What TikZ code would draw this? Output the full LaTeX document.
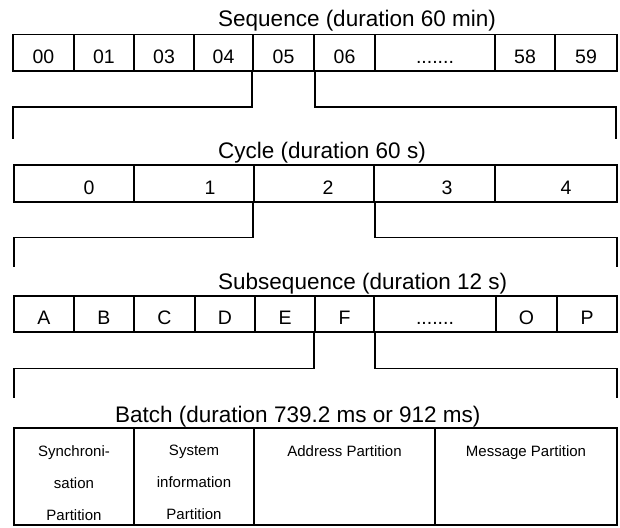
\documentclass[tikz,border=0pt]{standalone}
\usepackage{fontspec}
\setmainfont{Liberation Sans}
\begin{document}
\begin{tikzpicture}[x=1pt,y=-1pt,
  cell/.style={draw, line width=1.9pt, inner sep=0pt, minimum height=36.5pt,
    font=\fontsize{19.5}{20}\selectfont, text height=20.6pt, text depth=0pt},
  bcell/.style={draw, line width=2.1pt, inner sep=0pt, minimum height=97pt},
  ttl/.style={anchor=base west, inner sep=0pt, font=\fontsize{22.5}{24}\selectfont},
  lbl/.style={anchor=base, inner sep=0pt, font=\fontsize{19.5}{20}\selectfont},
  btxt/.style={anchor=north, inner sep=0pt, align=center, font=\fontsize{15}{32}\selectfont},
  conn/.style={draw, line width=1.3pt}]
\useasboundingbox (0,0) rectangle (620,527);

% ---------- Sequence ----------
\node[ttl] (tseq) at (218,27) {Sequence (duration 60 min)};
\node[cell, minimum width=61pt]  (s00) at (43.5,52.75) {00};
\node[cell, minimum width=60pt]  (s01) at (104,52.75) {01};
\node[cell, minimum width=60pt]  (s03) at (164,52.75) {03};
\node[cell, minimum width=59pt]  (s04) at (223.5,52.75) {04};
\node[cell, minimum width=61pt]  (s05) at (283.5,52.75) {05};
\node[cell, minimum width=61pt]  (s06) at (344.5,52.75) {06};
\node[cell, minimum width=120pt] (sdd) at (435,52.75) {.......};
\node[cell, minimum width=60pt]  (s58) at (525,52.75) {58};
\node[cell, minimum width=62pt]  (s59) at (586,52.75) {59};

\coordinate (k1l) at (13,139);
\coordinate (k1r) at (616,139);
\draw[conn] (s05.south west) -- ++(0,35) -| (k1l);
\draw[conn] (s05.south east) -- ++(0,35) -| (k1r);

% ---------- Cycle ----------
\node[ttl] (tcyc) at (218,158) {Cycle (duration 60 s)};
\node[cell, minimum width=120pt] (c0) at (74,183.5) {};
\node[cell, minimum width=120pt] (c1) at (194,183.5) {};
\node[cell, minimum width=120pt] (c2) at (314,183.5) {};
\node[cell, minimum width=121pt] (c3) at (434.5,183.5) {};
\node[cell, minimum width=122pt] (c4) at (556,183.5) {};
\node[lbl] (l0) at (89,194) {0};
\node[lbl] (l1) at (210,194) {1};
\node[lbl] (l2) at (328,194) {2};
\node[lbl] (l3) at (447,194) {3};
\node[lbl] (l4) at (566,194) {4};

\coordinate (k2l) at (14,267);
\coordinate (k2r) at (617,267);
\draw[conn] (c2.south west) -- ++(0,35) -| (k2l);
\draw[conn] (c2.south east) -- ++(0,35) -| (k2r);

% ---------- Subsequence ----------
\node[ttl] (tsub) at (218,289) {Subsequence (duration 12 s)};
\node[cell, minimum width=60pt]  (sA) at (44,314) {A};
\node[cell, minimum width=60pt]  (sB) at (104,314) {B};
\node[cell, minimum width=61pt]  (sC) at (164.5,314) {C};
\node[cell, minimum width=60pt]  (sD) at (225,314) {D};
\node[cell, minimum width=60pt]  (sE) at (285,314) {E};
\node[cell, minimum width=59pt]  (sF) at (344.5,314) {F};
\node[cell, minimum width=122pt] (sX) at (435,314) {.......};
\node[cell, minimum width=61pt]  (sO) at (526.5,314) {O};
\node[cell, minimum width=60pt]  (sP) at (587,314) {P};

\coordinate (k3l) at (14,398);
\coordinate (k3r) at (617,398);
\draw[conn] (sF.south west) -- ++(0,35) -| (k3l);
\draw[conn] (sF.south east) -- ++(0,35) -| (k3r);

% ---------- Batch ----------
\node[ttl] (tbat) at (115,422) {Batch (duration 739.2 ms or 912 ms)};
\node[bcell, minimum width=120pt] (b1) at (74,476.5) {};
\node[bcell, minimum width=120pt] (b2) at (194,476.5) {};
\node[bcell, minimum width=181pt] (b3) at (344.5,476.5) {};
\node[bcell, minimum width=182pt] (b4) at (526,476.5) {};
\node[btxt] (x1) at (74,445) {Synchroni-\\sation\\Partition};
\node[btxt] (x2) at (194,445) {System\\information\\Partition};
\node[btxt] (x3) at (344.5,445) {Address Partition};
\node[btxt] (x4) at (526,445) {Message Partition};
\end{tikzpicture}
\end{document}
